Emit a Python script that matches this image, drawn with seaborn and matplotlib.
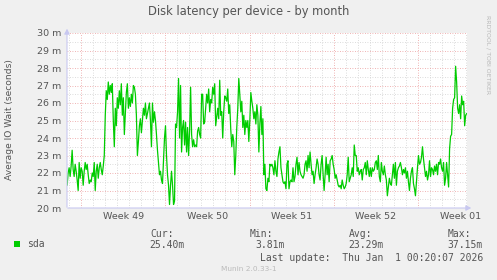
import numpy as np
import pandas as pd
import matplotlib
matplotlib.use("Agg")
import matplotlib.pyplot as plt
import seaborn as sns

# ---------------- data (milliseconds, 2-hour samples) ----------------
seg_week48_49 = [21.3, 22.0, 22.3, 21.8, 22.4, 23.3, 22.2, 21.8, 22.5, 22.1, 21.6, 21.0, 22.6, 21.7,
                 22.3, 22.1, 21.3, 22.1, 22.6, 22.2, 22.5, 21.9, 21.4, 21.6, 21.5, 22.0, 21.8, 22.6,
                 21.0, 22.1, 22.5, 21.7, 22.3, 22.6, 22.2, 21.9, 22.4, 23.0,
                 25.3, 26.7, 26.2, 27.2, 26.5, 27.0, 26.6, 27.1, 25.0, 23.5, 25.7, 24.7,
                 26.3, 25.7, 26.7, 25.9, 27.1, 25.3, 26.3, 24.2, 25.4, 26.6, 27.1, 25.7, 26.3, 25.8,
                 26.5, 26.0, 27.0, 26.9, 26.5, 25.3, 23.0, 23.8, 24.7, 25.1, 24.3, 25.0, 25.7, 25.3,
                 26.0, 25.1, 25.4, 25.7, 26.0, 25.0, 23.5, 26.0, 24.9, 25.5, 25.0, 24.2, 23.3, 22.6,
                 21.9, 22.1, 21.6, 21.4]
seg_week49_50 = [22.7, 24.0, 24.7, 23.0, 21.9, 21.3, 20.2, 21.3, 22.1, 21.3, 20.2, 20.4, 24.8, 24.6,
                 25.5, 27.4, 24.0, 27.0, 23.2, 24.6, 25.0, 23.6, 24.9, 23.2, 24.6, 23.0, 24.4, 26.9,
                 24.2, 23.5, 23.9, 23.5, 23.6, 23.5, 24.4, 24.6, 24.2, 24.0, 26.5, 26.5, 24.8, 24.9,
                 25.7, 26.5, 26.0, 26.8, 25.5, 26.2, 26.0, 26.9, 26.5, 27.1, 24.7, 25.2, 25.7, 25.1,
                 27.3, 25.3, 25.5, 24.0, 25.5, 26.4, 26.3, 26.1, 26.8, 25.4, 25.9, 24.5, 23.5, 24.2,
                 23.8, 21.9, 23.0, 24.6, 25.7, 27.4, 26.5, 25.5, 26.1, 24.6, 25.3, 24.2, 25.0, 24.6,
                 25.0, 23.8, 25.0, 26.6, 26.1, 25.7, 25.1, 25.5, 24.8, 25.9, 25.3, 23.2, 24.8]
seg_week50_52 = [25.8, 24.2, 25.1, 21.9, 22.5, 21.1, 21.0, 21.7, 21.5, 22.5, 22.4, 22.5, 22.3, 21.9,
                 22.7, 22.1, 21.8, 22.8, 23.2, 23.5, 22.3, 21.9, 21.5, 21.4, 21.5, 21.1, 22.5, 22.7,
                 21.1, 21.5, 21.6, 21.5, 22.3, 21.5, 21.8, 22.5, 22.9, 21.9, 22.6, 22.1, 21.9, 21.8,
                 21.7, 21.9, 22.5, 22.7, 22.1, 23.0, 22.3, 23.2, 22.5, 21.9, 22.1, 21.4, 21.9, 22.3,
                 22.8, 22.5, 21.9, 21.6, 22.5, 23.0, 21.9, 21.0, 21.9, 22.9, 21.9, 22.5, 21.5, 22.7,
                 22.8, 23.0, 22.5, 22.2, 21.7, 21.9, 21.6, 21.3, 21.2, 21.3, 21.1, 21.6, 21.3, 21.1,
                 21.2, 21.4, 21.9, 22.9, 21.5, 21.7, 21.9, 22.3, 21.8, 23.6, 23.0]
seg_week52_01 = [23.0, 22.1, 22.3, 21.9, 22.1, 22.2, 21.6, 22.2, 22.3, 22.6, 21.9, 22.7, 22.2, 21.8,
                 22.3, 21.8, 22.3, 22.1, 22.2, 22.6, 22.7, 22.2, 23.0, 21.8, 21.5, 22.6, 22.1, 21.9,
                 22.4, 21.9, 21.6, 20.7, 21.2, 21.7, 21.4, 21.3, 21.9, 22.5, 21.7, 22.6, 21.3, 22.1,
                 22.3, 22.4, 22.6, 22.3, 21.9, 22.2, 22.0, 22.3, 21.7, 22.1, 21.5, 21.0, 21.7, 22.1,
                 22.3, 21.4, 21.1, 20.7, 21.5, 22.3, 23.0, 22.5, 22.6, 22.9, 23.5, 22.8, 22.3, 21.8,
                 22.1, 21.6, 21.9, 22.7, 21.8, 22.3, 22.2, 21.9, 22.4, 22.1, 22.5, 21.9, 22.6, 22.5,
                 22.8, 22.3, 22.1, 22.6, 21.3, 21.7, 22.6, 21.9, 21.2, 23.4, 24.1, 24.2, 25.7, 26.2,
                 26.3, 28.1, 27.2, 25.7, 25.4, 25.9, 25.1, 26.4, 25.9, 26.1, 24.7, 25.3, 25.4]

week_labels = ["Week 49", "Week 50", "Week 51", "Week 52", "Week 01"]
y_ticks = [20, 21, 22, 23, 24, 25, 26, 27, 28, 29, 30]
legend_series = "sda"
stat_names = ["Cur:", "Min:", "Avg:", "Max:"]
stat_values = ["25.40m", "3.81m", "23.29m", "37.15m"]

# ---------------- time axis ----------------
week49_start = pd.Timestamp("2025-12-01 00:00")
view_start = pd.Timestamp("2025-11-29 20:05")
view_end = pd.Timestamp("2026-01-02 01:30")
values = seg_week48_49 + seg_week49_50 + seg_week50_52 + seg_week52_01
times = pd.date_range(pd.Timestamp("2025-11-29 20:20"), pd.Timestamp("2026-01-02 00:50"),
                      periods=len(values))
df = pd.DataFrame({"day": (times - week49_start) / pd.Timedelta(days=1), "ms": values})
x0 = (view_start - week49_start) / pd.Timedelta(days=1)
x1 = (view_end - week49_start) / pd.Timedelta(days=1)

# ---------------- figure ----------------
sns.set_theme(style="white")
W, H = 497, 280
fig = plt.figure(figsize=(W / 100, H / 100), dpi=100)
fig.patch.set_facecolor("#f0f0f0")
L, R, T, B = 67, 467, 33, 208
ax = fig.add_axes([L / W, 1 - B / H, (R - L) / W, (B - T) / H])
ax.set_facecolor("white")

ax.set_xlim(x0, x1)
ax.set_ylim(20, 30)

# grid
grid_minor = "#d0d0d0"
grid_major = "#eb9a9a"
for yv in np.arange(20.5, 30, 1.0):
    ax.axhline(yv, color=grid_minor, lw=0.6, ls=(0, (1, 2)), zorder=0)
for d in range(-1, 33):
    if d % 7 != 0:
        ax.axvline(d, color=grid_minor, lw=0.6, ls=(0, (1, 2)), zorder=0)
for yv in y_ticks:
    ax.axhline(yv, color=grid_major, lw=0.6, ls=(0, (1, 2)), zorder=0.5)
for wk in range(len(week_labels)):
    ax.axvline(wk * 7, color=grid_major, lw=0.6, ls=(0, (1, 2)), zorder=0.5)

sns.lineplot(data=df, x="day", y="ms", ax=ax, color="#00cc00", lw=0.9, zorder=3)

for s in ax.spines.values():
    s.set_visible(False)

text_col = "#555555"
ax.set_yticks(y_ticks)
ax.set_yticklabels([f"{v} m" for v in y_ticks], fontsize=6.8, color=text_col)
ax.set_xticks([wk * 7 + 3.5 for wk in range(len(week_labels))])
ax.set_xticklabels(week_labels, fontsize=6.8, color=text_col)
ax.tick_params(axis="both", length=0, pad=4)
ax.tick_params(axis="x", pad=3)
ax.set_xlabel("")
ax.set_ylabel("")

# axis lines with arrows (lavender)
axis_col = "#c8c8f0"
fig.add_artist(matplotlib.patches.FancyArrowPatch(
    (L / W, 1 - (B + 2) / H), (L / W, 1 - 26 / H), transform=fig.transFigure,
    arrowstyle="-|>,head_length=3,head_width=1.6", color=axis_col, lw=0.8, mutation_scale=1))
fig.add_artist(matplotlib.patches.FancyArrowPatch(
    ((L - 2) / W, 1 - B / H), (474 / W, 1 - B / H), transform=fig.transFigure,
    arrowstyle="-|>,head_length=3,head_width=1.6", color=axis_col, lw=0.8, mutation_scale=1))

def fx(px):
    return px / W

def fy(py):
    return 1 - py / H

fig.text(fx(249), fy(12), "Disk latency per device - by month", ha="center", va="center",
         fontsize=8.3, color=text_col)
fig.text(fx(10), fy(120), "Average IO Wait (seconds)", ha="center", va="center",
         rotation=90, fontsize=6.6, color=text_col)
fig.text(fx(488), fy(55), "RRDTOOL / TOBI OETIKER", ha="center", va="center",
         rotation=270, fontsize=4.4, color="#b8b8b8")

# legend
fig.add_artist(matplotlib.patches.Rectangle((fx(14), fy(247)), 6 / W, 6 / H,
                                            transform=fig.transFigure, color="#00cc00", lw=0))
mono = "DejaVu Sans Mono"
fig.text(fx(27), fy(244), legend_series, ha="left", va="center", fontsize=7, family=mono,
         color=text_col)
hdr_x = [150, 250, 349, 448]
val_x = [185, 285, 384, 483]
for name, val, hx, vx in zip(stat_names, stat_values, hdr_x, val_x):
    fig.text(fx(hx), fy(234), name, ha="left", va="center", fontsize=7, family=mono, color=text_col)
    fig.text(fx(vx), fy(245), val, ha="right", va="center", fontsize=7, family=mono, color=text_col)
fig.text(fx(483), fy(258), "Last update:  Thu Jan  1 00:20:07 2026", ha="right", va="center",
         fontsize=7, family=mono, color=text_col)
fig.text(fx(248.5), fy(269), "Munin 2.0.33-1", ha="center", va="center", fontsize=5.3,
         color="#bbbbbb")

fig.savefig("out.png", dpi=100, facecolor=fig.get_facecolor())
